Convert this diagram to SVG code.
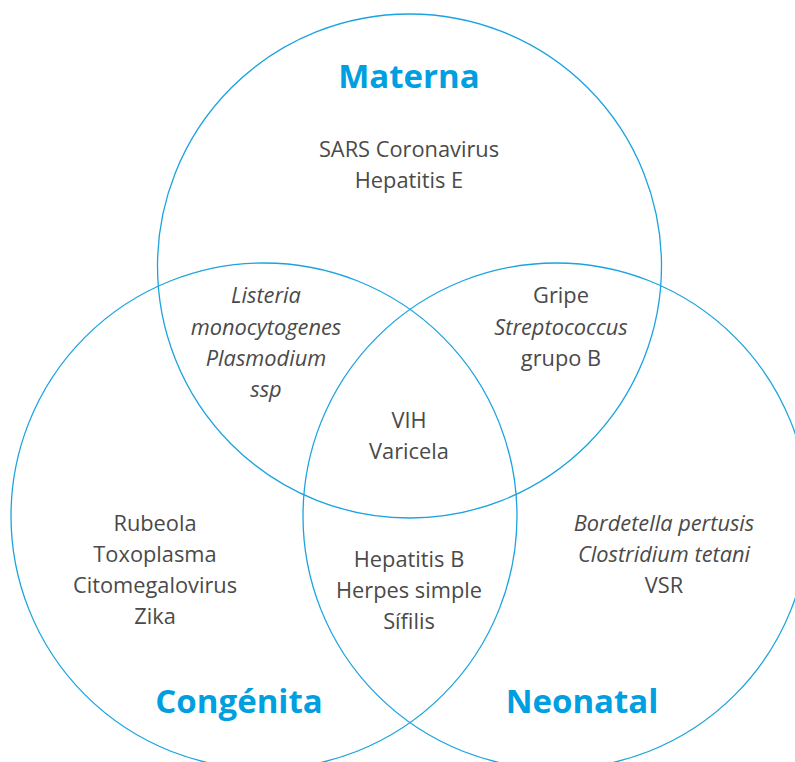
<svg xmlns="http://www.w3.org/2000/svg" width="795" height="762" viewBox="0 0 795 762">
<style>
.c{fill:none;stroke:#1BA3E0;stroke-width:1.3}
.t{font-family:"Open Sans","Liberation Sans",sans-serif;font-size:21.8px;fill:#4a4a4a;text-anchor:middle;font-stretch:93%}
.i{font-style:italic}
.h{font-family:"Open Sans","Liberation Sans",sans-serif;font-size:33px;font-weight:bold;fill:#009FE0;text-anchor:middle;font-stretch:94%}
</style>
<rect width="795" height="762" fill="#fff"/>
<g id="circles">
<circle id="materna-circle" class="c" cx="409.5" cy="266" r="252"/>
<circle id="congenita-circle" class="c" cx="264" cy="516" r="253"/>
<circle id="neonatal-circle" class="c" cx="556" cy="516" r="253"/>
</g>
<g id="materna">
<text class="h" x="409" y="88">Materna</text>
<text class="t" x="409" y="157">SARS Coronavirus</text>
<text class="t" x="409" y="188">Hepatitis E</text>
</g>
<g id="materna-congenita">
<text class="t i" x="266" y="303">Listeria</text>
<text class="t i" x="266" y="335">monocytogenes</text>
<text class="t i" x="266" y="366">Plasmodium</text>
<text class="t i" x="266" y="397">ssp</text>
</g>
<g id="materna-neonatal">
<text class="t" x="561" y="303">Gripe</text>
<text class="t i" x="561" y="335">Streptococcus</text>
<text class="t" x="561" y="366">grupo B</text>
</g>
<g id="all">
<text class="t" x="409" y="428">VIH</text>
<text class="t" x="409" y="459">Varicela</text>
</g>
<g id="congenita">
<text class="t" x="155" y="531">Rubeola</text>
<text class="t" x="155" y="562">Toxoplasma</text>
<text class="t" x="155" y="593">Citomegalovirus</text>
<text class="t" x="155" y="624">Zika</text>
<text class="h" x="239" y="713">Congénita</text>
</g>
<g id="congenita-neonatal">
<text class="t" x="409" y="567">Hepatitis B</text>
<text class="t" x="409" y="598">Herpes simple</text>
<text class="t" x="409" y="629">Sífilis</text>
</g>
<g id="neonatal">
<text class="t i" x="664" y="531">Bordetella pertusis</text>
<text class="t i" x="664" y="562">Clostridium tetani</text>
<text class="t" x="664" y="593">VSR</text>
<text class="h" x="582" y="713">Neonatal</text>
</g>
</svg>
